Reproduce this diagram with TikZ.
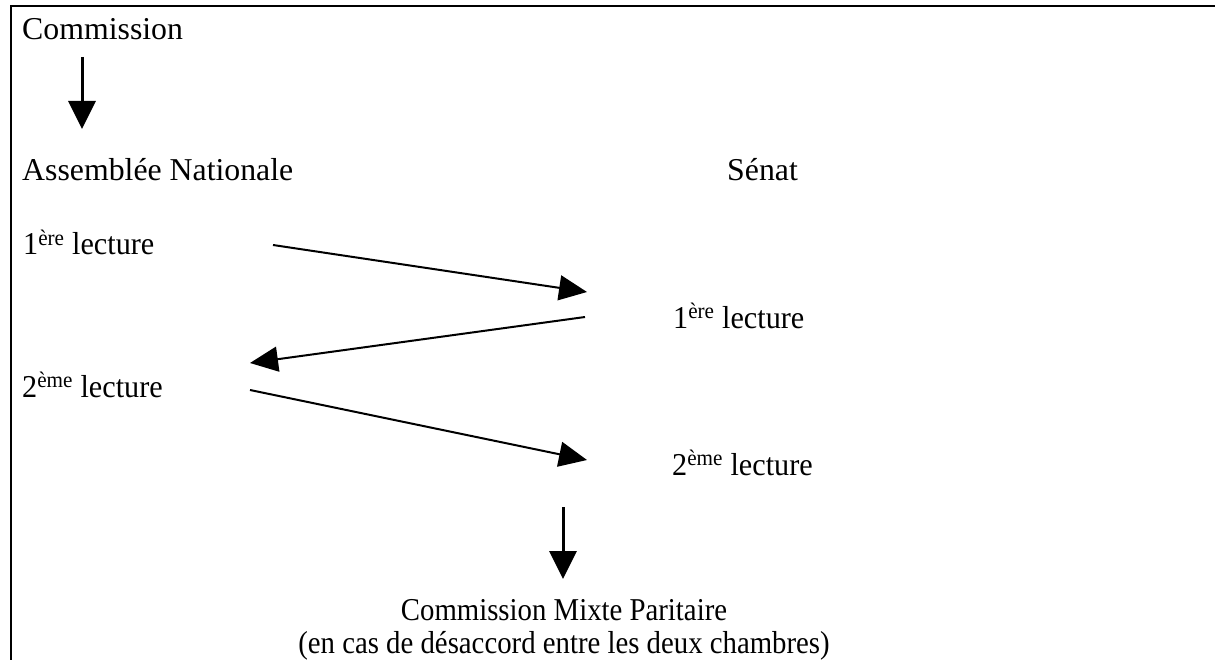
\documentclass[tikz,border=0pt]{standalone}
\usepackage{fontspec}
\setmainfont{Liberation Serif}
\newfontfamily\narrowser[FakeStretch=0.95]{Liberation Serif}
\newfontfamily\condser[FakeStretch=0.905]{Liberation Serif}
\usetikzlibrary{arrows.meta}
\begin{document}
\begin{tikzpicture}[x=1pt,y=-1pt,
  lbl/.style={inner sep=0pt,font=\fontsize{31.8}{38}\selectfont},
  lect/.style={inner sep=0pt,font=\fontsize{31.8}{38}\narrowser},
  cond/.style={inner sep=0pt,font=\fontsize{31.8}{38}\condser},
  vline/.style={line width=3pt,-{Triangle[length=28pt,width=27pt]}},
  dline/.style={line width=2pt,-{Triangle[length=28pt,width=25pt]}},
  frame/.style={line width=2.5pt}]
\useasboundingbox (0,0) rectangle (1215,660);
\draw[frame] (11,661) -- (11,6) -- (1216,6);
% texts
\node[lbl,anchor=base west] (com) at (22,40) {Commission};
\node[lbl,anchor=base west] (an) at (22,181) {Assemblée Nationale};
\node[lbl,anchor=base west] (sen) at (727,181) {Sénat};
\node[lect,anchor=base west] (an1) at (23,255) {1\textsuperscript{ère} lecture};
\node[lect,anchor=base west] (an2) at (22,397) {2\textsuperscript{ème} lecture};
\node[lect,anchor=base west] (s1) at (673,328) {1\textsuperscript{ère} lecture};
\node[lect,anchor=base west] (s2) at (672,475) {2\textsuperscript{ème} lecture};
\node[cond,anchor=base] (cmp) at (564,620) {Commission Mixte Paritaire};
\node[cond,anchor=base] (cas) at (564,653) {(en cas de désaccord entre les deux chambres)};
% arrow end points
\coordinate (c1a) at (82,57);
\coordinate (c1b) at (82,129);
\coordinate (a1a) at (273,245);
\coordinate (a1b) at (587,292);
\coordinate (a2a) at (585,317);
\coordinate (a2b) at (250,363);
\coordinate (a3a) at (250,390);
\coordinate (a3b) at (587,460);
\coordinate (c2a) at (563,507);
\coordinate (c2b) at (563,579);
\draw[vline] (c1a) -- (c1b);
\draw[dline] (a1a) -- (a1b);
\draw[dline] (a2a) -- (a2b);
\draw[dline] (a3a) -- (a3b);
\draw[vline] (c2a) -- (c2b);
\end{tikzpicture}
\end{document}
